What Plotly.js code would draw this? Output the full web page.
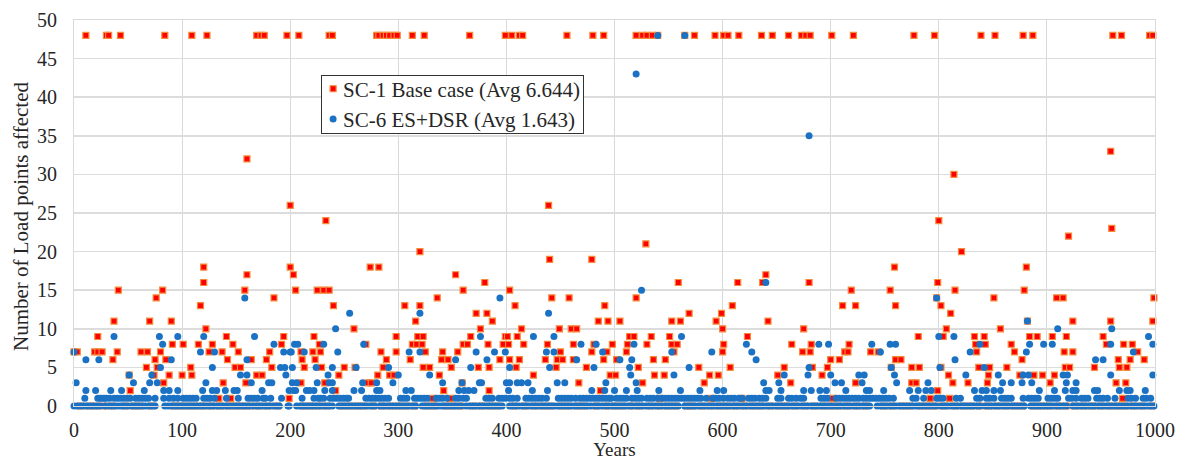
<!DOCTYPE html>
<html><head><meta charset="utf-8">
<script src="https://cdn.plot.ly/plotly-3.0.1.min.js"></script>
<style>html,body{margin:0;padding:0;background:#fff}</style></head>
<body><div id="chart" style="width:1182px;height:461px"></div>
<script>
// SC-1 Base case: years listed per value level
const base_48=[11,30,32,43,84,109,123,169,173,176,197,208,236,239,280,282,286,289,292,296,299,313,324,366,399,405,412,415,456,480,490,520,526,530,535,540,565,574,593,601,605,615,636,646,661,673,677,681,701,721,777,796,839,852,878,887,961,969,995,998];
const base_33=[959];
const base_32=[160];
const base_30=[814];
const base_26=[200,439];
const base_24=[233,800];
const base_23=[960];
const base_22=[920];
const base_21=[529];
const base_20=[320,821];
const base_19=[440,479];
const base_18=[120,200,274,282,759,881];
const base_17=[160,203,353,640];
const base_16=[120,380,559,614,637,680,799];
const base_15=[41,82,158,205,225,231,236,360,403,719,755,815,879];
const base_14=[76,185,336,442,458,520,798,851,909,915,999];
const base_13=[117,240,306,320,408,491,609,711,723,760,802];
const base_12=[372,382,569,599,811];
const base_11=[37,70,90,316,387,485,494,505,553,561,594,642,882,924,959,998];
const base_10=[122,259,376,414,449,460,465,600,675,807,857];
const base_9=[22,141,194,222,298,318,323,367,399,401,410,514,518,534,551,623,781,804,833,842,884,891,905,918,952];
const base_8=[91,101,115,128,147,192,227,270,313,317,322,360,364,383,397,402,416,438,462,481,498,512,530,553,558,601,664,682,717,834,843,867,955,971,979];
const base_7=[0,3,19,22,26,40,62,68,80,125,137,152,181,210,221,228,284,298,325,341,355,450,479,493,511,555,600,674,681,713,716,737,744,835,870,916,924,984];
const base_6=[36,75,85,142,164,178,211,223,289,311,340,346,394,403,412,436,447,452,462,490,502,536,547,700,708,760,765,877,966,977,990];
const base_5=[67,77,108,149,154,183,213,229,250,260,286,323,329,349,374,384,409,446,474,522,578,607,657,683,697,756,775,782,802,837,847,863,917,921,944,967,974];
const base_4=[51,74,88,100,109,169,174,245,281,292,296,338,425,496,501,537,546,588,596,651,692,809,846,875,888,896,907];
const base_3=[83,138,159,210,232,272,275,359,467,526,583,663,723,775,779,813,827,845,903,964,973];
const base_2=[52,242,342,384,487,799];
const base_1=[134,145,199,332,348,542,590,618,702,792,810,970];
const base_0=[6,14,20,27,35,47,55,61,72,93,99,106,112,119,127,135,143,150,156,163,171,179,188,212,219,226,234,248,255,262,268,277,285,293,300,307,315,326,333,344,351,358,369,377,385,392,407,417,426,434,441,451,457,466,472,483,492,500,507,516,523,533,541,549,556,567,572,581,589,597,604,612,620,628,635,644,652,659,667,676,685,693,700,707,715,724,732,749,757,766,773,783,790,797,805,815,823,830,838,846,854,862,870,877,888,895,902,911,918,926,934,942,950,958,965,972,980,988,997];

// SC-6 ES+DSR: years listed per value level
const dsr_48=[540,565];
const dsr_43=[520];
const dsr_35=[680];
const dsr_16=[640];
const dsr_15=[525];
const dsr_14=[158,394,798];
const dsr_12=[255,320,439];
const dsr_11=[882];
const dsr_10=[242,910,960];
const dsr_9=[37,79,96,120,167,376,425,444,562,800,814,994];
const dsr_8=[82,185,204,207,231,268,469,483,518,622,689,698,738,755,760,838,884,897,905,959,998];
const dsr_7=[0,117,130,194,200,201,213,244,310,320,372,389,399,437,444,489,553,590,627,746,829,881,980];
const dsr_6=[11,23,90,160,353,382,465,505,516,631,815,945,952];
const dsr_5=[80,128,191,195,202,224,239,261,291,367,403,440,481,514,569,680,756,801,842];
const dsr_4=[51,72,154,160,196,235,300,329,515,555,657,679,700,726,731,759,825,855,878,883,915,919,959,998];
const dsr_3=[2,55,70,77,122,164,180,183,202,206,225,236,239,267,280,295,341,359,375,377,400,403,410,414,420,447,454,492,520,638,652,704,710,729,761,790,859,867,877,886,918,927];
const dsr_2=[11,20,34,44,65,83,88,96,119,128,132,140,148,151,174,199,203,205,215,218,222,232,239,259,266,280,283,307,312,356,361,365,370,402,424,438,479,491,500,511,521,541,561,579,595,601,640,643,654,675,682,690,696,714,733,736,749,773,781,788,793,833,840,844,851,857,893,907,917,924,927,944,947,967,974,977,991];
const dsr_1=[10,22,24,26,28,30,33,37,40,43,46,49,52,57,60,63,66,69,75,83,88,92,96,101,104,107,110,113,120,123,126,130,141,152,161,164,167,170,175,177,182,192,211,222,226,228,231,237,240,243,246,249,252,254,270,273,276,279,282,285,288,291,302,305,308,315,318,321,324,327,335,338,341,345,353,356,360,363,381,384,387,393,396,399,403,406,410,418,421,424,427,430,433,437,448,451,454,457,460,464,468,471,474,477,480,483,486,489,492,495,497,502,505,508,511,516,519,522,525,530,533,536,540,544,547,550,553,556,559,562,565,568,571,574,577,580,585,591,594,597,601,605,608,611,615,618,624,627,630,634,637,640,651,654,661,664,668,672,675,691,694,697,705,708,711,714,717,720,723,726,730,733,736,739,742,745,748,751,754,758,776,779,786,798,801,804,816,820,835,838,844,847,851,858,861,864,867,878,883,886,889,892,901,904,907,910,920,923,927,932,935,938,946,949,952,956,963,975,978,982,989,992,996];
const dsr_0=[0,3,6,9,12,15,18,21,24,29,32,35,38,41,44,47,50,54,57,60,63,66,69,72,75,84,87,90,93,96,99,102,105,108,111,114,117,120,123,126,129,132,135,138,141,144,147,150,153,156,159,162,166,169,172,175,178,181,184,187,190,198,199,206,209,212,215,218,221,224,227,230,233,236,239,245,248,251,254,257,260,263,266,269,272,275,278,283,286,289,292,295,298,301,304,307,310,313,316,322,325,328,331,334,337,340,343,346,349,352,355,358,363,366,369,372,375,378,381,384,387,390,393,396,403,406,409,412,415,418,421,424,427,430,433,436,439,442,445,448,451,454,457,460,463,466,469,472,475,478,482,485,488,492,495,498,501,504,507,510,513,516,520,523,526,529,532,535,538,541,544,547,550,553,556,559,565,568,571,574,577,580,583,586,589,592,595,598,601,604,607,610,613,616,619,622,625,628,631,634,637,640,643,646,649,652,655,658,661,664,667,670,673,676,679,682,685,688,691,694,697,700,703,706,709,712,715,718,721,724,727,730,733,736,743,746,749,752,755,758,761,764,767,770,773,776,779,782,785,788,791,794,797,802,805,808,811,814,817,820,823,826,829,832,835,838,843,846,849,852,855,858,861,864,867,870,873,876,879,885,888,891,894,897,900,903,906,909,912,915,918,924,927,930,933,936,939,942,945,948,951,954,957,960,963,966,969,972,975,978,981,984,987,990,993,996,999];

const baseName="SC-1 Base case (Avg 6.644)";
const dsrName="SC-6 ES+DSR (Avg 1.643)";
const xTicks=[0,100,200,300,400,500,600,700,800,900,1000];
const yTicks=[0,5,10,15,20,25,30,35,40,45,50];

const baseGroups=[[48,base_48],[33,base_33],[32,base_32],[30,base_30],[26,base_26],[24,base_24],[23,base_23],[22,base_22],[21,base_21],[20,base_20],[19,base_19],[18,base_18],[17,base_17],[16,base_16],[15,base_15],[14,base_14],[13,base_13],[12,base_12],[11,base_11],[10,base_10],[9,base_9],[8,base_8],[7,base_7],[6,base_6],[5,base_5],[4,base_4],[3,base_3],[2,base_2],[1,base_1],[0,base_0]];
const dsrGroups=[[48,dsr_48],[43,dsr_43],[35,dsr_35],[16,dsr_16],[15,dsr_15],[14,dsr_14],[12,dsr_12],[11,dsr_11],[10,dsr_10],[9,dsr_9],[8,dsr_8],[7,dsr_7],[6,dsr_6],[5,dsr_5],[4,dsr_4],[3,dsr_3],[2,dsr_2],[1,dsr_1],[0,dsr_0]];
const xs=g=>g.flatMap(([v,a])=>a);
const ys=g=>g.flatMap(([v,a])=>a.map(()=>v));

const serif='"Liberation Serif","Times New Roman",serif';
const ink='#262626';
const traces=[
 {type:'scatter',mode:'markers',name:baseName,x:xs(baseGroups),y:ys(baseGroups),cliponaxis:false,
  marker:{symbol:'square',size:6,color:'#ff0000',line:{color:'#f58a3c',width:1.2}}},
 {type:'scatter',mode:'markers',name:dsrName,x:xs(dsrGroups),y:ys(dsrGroups),cliponaxis:false,
  marker:{symbol:'circle',size:7,color:'#1b72c4',line:{width:0}}}
];
const axisBase={showline:true,linecolor:'#d9d9d9',linewidth:1,zeroline:false,ticks:'outside',tickcolor:'rgba(0,0,0,0)',tickfont:{family:serif,size:20,color:ink}};
const layout={
 width:1182,height:461,paper_bgcolor:'#fff',plot_bgcolor:'#fff',
 margin:{l:73.7,r:26.7,t:19.5,b:55,pad:0},
 font:{family:serif,color:ink},
 xaxis:{...axisBase,ticklen:5.5,range:[0,1000],tickmode:'array',tickvals:xTicks,ticktext:xTicks.map(String),
   gridcolor:'#d9d9d9',gridwidth:1,mirror:true,automargin:false,
   title:{text:'Years',font:{family:serif,size:19,color:ink}}},
 yaxis:{...axisBase,ticklen:12,range:[0,50],tickmode:'array',tickvals:yTicks,ticktext:yTicks.map(String),
   gridcolor:'#dcdcdc',gridwidth:1.5,mirror:true,automargin:false,
   title:{text:'Number of Load points affected',font:{family:serif,size:21,color:ink}}},
 legend:{x:0.2286,y:0.8585,xanchor:'left',yanchor:'top',bgcolor:'#fff',bordercolor:'#333',borderwidth:1,
   font:{family:serif,size:21,color:ink},tracegroupgap:0,traceorder:'normal'},
 showlegend:true
};
Plotly.newPlot('chart',traces,layout,{staticPlot:true,displayModeBar:false}).then(gd=>{
  // Plotly's legend key column has a 30px minimum; the reference uses a tighter one.
  const legend=gd.querySelector('.legend');
  legend.querySelectorAll('.legendsymbols').forEach(s=>s.setAttribute('transform','translate(-9,0)'));
  legend.querySelectorAll('.legendtext').forEach(t=>{
    const shift=+t.getAttribute('x')-19;
    t.setAttribute('x',shift);
    t.querySelectorAll('tspan[x]').forEach(sp=>sp.setAttribute('x',shift));
  });
  legend.querySelectorAll('.traces').forEach(t=>{
    const m=/translate\(([-\d.]+),\s*([-\d.]+)\)/.exec(t.getAttribute('transform'));
    if(m) t.setAttribute('transform',`translate(${m[1]},${+m[2]-7})`);
  });
  const bg=legend.querySelector('.bg');
  bg.setAttribute('width',262);
  bg.style.width='262px';
  bg.setAttribute('height',58);
  bg.style.height='58px';
  // Axis titles sit slightly further out than Plotly's default placement.
  const nudge=(sel,dx,dy)=>{
    const el=gd.querySelector(sel);
    if(el) el.setAttribute('transform',`translate(${dx},${dy}) `+(el.getAttribute('transform')||''));
  };
  nudge('.xtitle',0,-1);
  nudge('.ytitle',6,3.5);
});
</script></body></html>
